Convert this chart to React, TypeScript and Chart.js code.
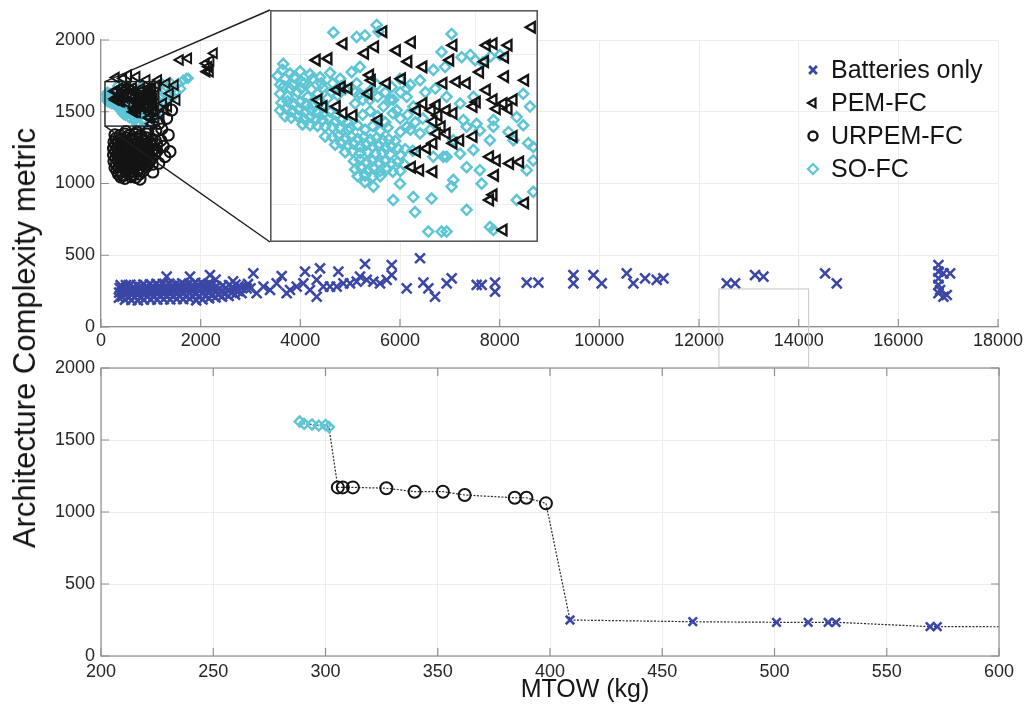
import React, { useEffect, useRef } from 'react';
import { Chart, registerables } from 'chart.js';
import { drawPoint } from 'chart.js/helpers';

Chart.register(...registerables);

type P = [number, number];

// ---------------- labels & ticks ----------------
const SERIES_LABELS = ['Batteries only', 'PEM-FC', 'URPEM-FC', 'SO-FC'];
const Y_TITLE = 'Architecture Complexity metric';
const X_TITLE = 'MTOW (kg)';
const TOP_X_TICKS = [0, 2000, 4000, 6000, 8000, 10000, 12000, 14000, 16000, 18000];
const TOP_Y_TICKS = [0, 500, 1000, 1500, 2000];
const BOT_X_TICKS = [200, 250, 300, 350, 400, 450, 500, 550, 600];
const BOT_Y_TICKS = [0, 500, 1000, 1500, 2000];
const INSET_X_RANGE = [80, 1150];
const INSET_Y_RANGE = [1400, 1710];
const INSET_X_GRID = [200, 550, 900];
const INSET_Y_GRID = [1450, 1550, 1650];
const HILITE_X_RANGE = [12400, 14200];
const HILITE_Y_TOP = 265;

// ---------------- top panel: Batteries only ----------------
const BATT_BAND: P[] = [
  [360, 205], [365, 240], [375, 272], [395, 292],
  [480, 190], [490, 228], [470, 262], [500, 292],
  [610, 188], [620, 226], [600, 260], [590, 294],
  [740, 186], [730, 224], [750, 258], [720, 292],
  [860, 190], [880, 228], [870, 262], [850, 296],
  [1000, 192], [990, 230], [1010, 265], [980, 298],
  [1130, 190], [1120, 232], [1140, 266], [1110, 300],
  [1260, 194], [1250, 234], [1270, 268], [1240, 300],
  [1390, 192], [1380, 232], [1400, 268], [1370, 302],
  [1520, 196], [1510, 236], [1530, 270], [1500, 298],
  [1650, 194], [1640, 234], [1660, 270], [1630, 304],
  [1780, 198], [1770, 238], [1790, 274], [1760, 300],
  [1910, 186], [1900, 230], [1920, 270], [1890, 308],
  [2040, 192], [2030, 236], [2050, 274], [2020, 304],
  [2170, 200], [2160, 240], [2180, 278], [2150, 300],
  [2300, 206], [2290, 246], [2310, 282],
  [2430, 212], [2420, 250], [2440, 288],
  [2560, 216], [2550, 256], [2570, 292],
  [2690, 226], [2680, 262], [2700, 296],
  [2820, 236], [2810, 274],
];
const BATT_BAND_B: P[] = [
  [425, 212], [430, 246], [420, 278], [545, 210], [555, 246], [540, 278],
  [675, 208], [680, 244], [665, 276], [800, 210], [810, 246], [790, 278],
  [930, 212], [940, 248], [920, 280], [1060, 212], [1070, 250], [1050, 282],
  [1190, 214], [1200, 250], [1180, 284], [1320, 214], [1330, 252], [1310, 286],
  [1450, 216], [1460, 252], [1440, 286], [1580, 216], [1590, 254], [1570, 288],
  [1710, 218], [1720, 256], [1700, 288], [1840, 216], [1850, 256], [1830, 290],
  [1970, 214], [1980, 254], [1960, 290], [2100, 220], [2110, 258], [2090, 290],
  [2230, 224], [2240, 262], [2220, 292], [2360, 228], [2370, 266],
  [2490, 234], [2500, 270], [2620, 240], [2630, 276], [2750, 250], [2760, 284],
];
const BATT_SPARSE: P[] = [
  [1318, 351], [1786, 351], [2187, 362], [3057, 374], [3626, 355], [4094, 386], [4395, 409],
  [4763, 386], [5298, 439], [5198, 351], [5834, 432], [5834, 362], [6402, 479], [6134, 269],
  [6469, 309], [6703, 211], [6569, 269], [6937, 304], [7038, 339], [7539, 293], [7640, 293],
  [7907, 309], [7907, 246], [8543, 309], [8777, 309], [9480, 362], [9480, 304],
  [2923, 269], [3258, 281], [3525, 304], [3793, 258], [4061, 304], [4328, 328], [4328, 211],
  [4462, 281], [4596, 281], [4864, 304], [4997, 304], [5131, 316], [5332, 328], [5599, 304],
  [5733, 328], [3392, 258], [3927, 281], [3726, 235], [4194, 258], [4730, 281], [5466, 316],
  [2756, 258], [3124, 235], [2300, 330], [2650, 318], [2950, 300], [3000, 270],
  [9881, 362], [10048, 304], [10550, 374], [10683, 304], [10918, 339], [11152, 328], [11286, 339],
  [12557, 304], [12724, 304], [13125, 362], [13293, 351], [14530, 374], [14764, 304],
  [16805, 432], [16805, 386], [16805, 339], [16805, 293], [16805, 235], [16905, 374], [17039, 374],
  [16905, 211], [16972, 223], [16838, 258],
];

// ---------------- top panel: PEM-FC ----------------
const PEM_INSET: P[] = [
  [266, 1643], [313, 1645], [373, 1665], [459, 1652], [499, 1661], [532, 1681], [586, 1656],
  [646, 1667], [632, 1641], [692, 1634], [606, 1618], [812, 1663], [799, 1643], [945, 1663],
  [972, 1665], [1032, 1663], [938, 1641], [1018, 1647], [918, 1627], [1018, 1621], [1098, 1616],
  [1125, 1687], [479, 1623], [486, 1616], [546, 1612], [366, 1607], [393, 1605], [346, 1603],
  [273, 1590], [293, 1581], [346, 1581], [373, 1572], [413, 1569], [513, 1563], [666, 1576],
  [692, 1585], [725, 1576], [745, 1583], [752, 1569], [785, 1576], [812, 1572], [765, 1554],
  [732, 1561], [745, 1545], [785, 1545], [839, 1536], [892, 1541], [812, 1532], [732, 1532],
  [706, 1525], [666, 1521], [772, 1612], [825, 1614], [865, 1612], [945, 1603], [905, 1587],
  [972, 1590], [1012, 1585], [1052, 1590], [1032, 1578], [985, 1578], [892, 1581], [1052, 1541],
  [1038, 1505], [1078, 1507], [985, 1509], [958, 1514], [978, 1489], [972, 1463], [958, 1456],
  [1098, 1452], [1012, 1416], [646, 1500], [679, 1496], [732, 1494], [473, 1598],
];
const PEM_OUTER: P[] = [
  [1585, 1861], [1752, 1872], [2154, 1814], [2268, 1907], [2121, 1779], [2188, 1779], [2107, 1837],
  [2200, 1855], [1318, 1698], [1485, 1686], [1385, 1628], [1519, 1582], [1251, 1559], [1351, 1535],
  [1284, 1512], [1200, 1480], [448, 1733], [548, 1756], [716, 1744], [917, 1722], [1150, 1721],
  [300, 1738],
];

// ---------------- top panel: URPEM-FC ----------------
const URPEM_CORE: P[] = [
  [280, 1340], [380, 1335], [480, 1345], [580, 1338], [690, 1342], [800, 1335], [920, 1345],
  [260, 1290], [350, 1295], [440, 1288], [530, 1292], [640, 1296], [750, 1290], [860, 1294], [980, 1290], [1090, 1300],
  [250, 1245], [330, 1250], [420, 1242], [520, 1248], [630, 1245], [740, 1250], [850, 1244], [960, 1248], [1070, 1240],
  [250, 1200], [330, 1205], [420, 1198], [530, 1202], [640, 1206], [750, 1200], [860, 1204], [970, 1198], [1080, 1205],
  [260, 1155], [340, 1160], [430, 1152], [540, 1158], [650, 1155], [760, 1160], [870, 1152], [980, 1158],
  [280, 1110], [360, 1115], [460, 1108], [570, 1112], [680, 1116], [790, 1110], [900, 1114],
  [350, 1065], [440, 1060], [550, 1068], [660, 1062], [770, 1066],
];
const URPEM_CORE_B: P[] = [
  [300, 1315], [400, 1312], [500, 1318], [600, 1310], [700, 1316], [805, 1312], [915, 1318], [1025, 1310],
  [290, 1268], [380, 1265], [475, 1270], [575, 1266], [685, 1272], [795, 1266], [905, 1270], [1015, 1264], [1120, 1270],
  [290, 1222], [380, 1226], [475, 1220], [575, 1224], [685, 1220], [795, 1226], [905, 1222], [1015, 1220], [1120, 1226],
  [295, 1178], [385, 1175], [480, 1180], [585, 1176], [695, 1182], [805, 1176], [915, 1180], [1025, 1176],
  [310, 1132], [400, 1135], [490, 1130], [600, 1134], [710, 1130], [820, 1136], [930, 1130], [1030, 1134],
  [320, 1088], [400, 1085], [510, 1090], [620, 1086], [730, 1090], [840, 1086],
  [400, 1045], [600, 1048], [700, 1042],
];
const URPEM_SPARSE: P[] = [
  [1160, 1141], [783, 1030], [1284, 1187], [1385, 1222], [1351, 1338], [1218, 1380], [1165, 1419],
  [1318, 1454], [1418, 1512], [1200, 1300], [1250, 1260], [480, 1035], [1040, 1080], [1100, 1370],
  [500, 1362], [720, 1358], [940, 1362],
];

// ---------------- top panel: SO-FC ----------------
const SOFC_SPARSE: P[] = [
  [333, 1680], [133, 1638], [426, 1674], [459, 1676], [506, 1690], [513, 1681], [805, 1678],
  [765, 1654], [845, 1647], [899, 1643], [998, 1650], [439, 1634], [206, 1614], [120, 1610],
  [160, 1605], [406, 1627], [599, 1618], [626, 1605], [679, 1616], [566, 1607], [652, 1581],
  [732, 1630], [779, 1634], [300, 1541], [459, 1480], [493, 1474], [599, 1478], [652, 1460],
  [725, 1458], [659, 1440], [865, 1443], [805, 1474], [925, 1478], [712, 1414], [765, 1414],
  [785, 1414], [958, 1420], [972, 1416], [1065, 1456], [1131, 1467], [1105, 1496], [1131, 1509],
  [1111, 1532], [1131, 1527], [1091, 1556], [1052, 1536], [1032, 1547], [972, 1554], [918, 1549],
  [865, 1554], [812, 1536], [785, 1514], [865, 1500], [918, 1496], [812, 1483], [572, 1456],
  [880, 1650], [930, 1640], [960, 1648], [785, 1594], [839, 1585], [626, 1594], [572, 1590],
  [533, 1581], [586, 1576], [479, 1590], [439, 1598], [426, 1612], [506, 1610], [892, 1594],
  [1091, 1598], [1118, 1581], [1065, 1567], [972, 1563], [905, 1558], [852, 1563], [958, 1536],
  [892, 1523], [839, 1518], [772, 1514], [732, 1514], [679, 1545], [626, 1554],
];
const SOFC_CLUSTER: P[] = [
  [110, 1622], [140, 1618], [175, 1620], [215, 1612], [250, 1618], [290, 1606], [330, 1612],
  [130, 1630], [160, 1625], [200, 1628], [240, 1624], [280, 1620], [320, 1626], [360, 1618],
  [135, 1608], [170, 1610], [205, 1605], [245, 1604], [285, 1612], [325, 1600], [365, 1608],
  [120, 1598], [150, 1595], [190, 1600], [230, 1594], [270, 1598], [310, 1592], [350, 1596], [380, 1604],
  [125, 1586], [150, 1588], [175, 1585], [200, 1587], [225, 1584], [250, 1583], [275, 1586], [300, 1580],
  [120, 1576], [145, 1578], [170, 1575], [195, 1577], [220, 1574], [245, 1576], [270, 1573], [295, 1572],
  [320, 1574], [345, 1570],
  [140, 1568], [165, 1566], [190, 1568], [215, 1565], [240, 1567], [265, 1564], [290, 1563], [315, 1565],
  [340, 1561], [365, 1563], [390, 1560],
  [210, 1557], [240, 1556], [270, 1555], [300, 1554], [330, 1553], [360, 1552], [390, 1550],
  [400, 1552], [430, 1556], [460, 1550], [490, 1555], [520, 1548], [550, 1553], [600, 1547], [640, 1550],
  [420, 1600], [450, 1590], [480, 1602], [510, 1594], [540, 1600], [570, 1572], [600, 1565], [630, 1570],
  [660, 1560], [690, 1565], [720, 1550], [450, 1570], [480, 1575], [510, 1568], [540, 1560], [420, 1585],
  [560, 1590], [600, 1600], [640, 1610], [700, 1600], [740, 1605],
  [330, 1540], [355, 1542], [380, 1539], [405, 1541], [430, 1538], [455, 1540], [480, 1537], [505, 1539],
  [530, 1536], [555, 1537], [580, 1535],
  [340, 1530], [365, 1532], [390, 1529], [415, 1531], [440, 1528], [465, 1530], [490, 1527], [515, 1529],
  [540, 1526], [565, 1528], [590, 1525], [620, 1524], [650, 1522],
  [380, 1520], [410, 1521], [440, 1519], [470, 1520], [500, 1518], [530, 1519], [560, 1517], [600, 1516],
  [415, 1508], [440, 1510], [465, 1507], [490, 1509], [515, 1506], [540, 1508], [565, 1505], [590, 1507], [615, 1504],
  [420, 1497], [445, 1499], [470, 1496], [495, 1498], [520, 1495], [545, 1497], [570, 1494], [600, 1495],
  [430, 1488], [460, 1489], [490, 1487], [520, 1488],
];
const SOFC_OUTER: P[] = [
  [1720, 1733], [1753, 1733], [1652, 1721], [1552, 1698], [1218, 1698], [1284, 1651], [1419, 1651],
  [1184, 1605], [1318, 1582], [1451, 1605], [1350, 1620], [1250, 1560], [1500, 1640], [1600, 1660],
  [1180, 1540], [1230, 1640], [1400, 1700],
];

// ---------------- bottom panel: Pareto front ----------------
const SOFC_FRONT: P[] = [[288.5, 1628], [290.5, 1612], [294, 1608], [297, 1600], [300, 1604], [301.5, 1590]];
const URPEM_FRONT: P[] = [
  [305.5, 1171], [307.7, 1171], [312.2, 1171], [327.1, 1165], [339.7, 1141], [352.3, 1141],
  [362, 1118], [384.3, 1099], [389.5, 1099], [398.2, 1060],
];
const BATT_FRONT: P[] = [
  [408.9, 250], [463.6, 238], [500.9, 234], [515, 234], [523.9, 234], [527.4, 234], [569.3, 204], [572.5, 204],
];
const FRONT_TAIL: P[] = [[605, 203]];

// ---------------- styling / layout ----------------
const FONT = "'Liberation Sans', Arial, Helvetica, sans-serif";
const BLUE = '#3b47a6';
const CYAN = '#5ec5d5';
const BLACK = '#141414';
const GRID = '#ececec';
const AXIS = '#8f8f8f';
const TEXT = '#262626';
const TICK = 8;
const W = 1028;
const H = 711;
const TOP_H = 370;
const BOT_TOP = 350;
const BOT_H = 361;
const INSET_BOX = { left: 270, top: 10, width: 268, height: 232 };
const LEGEND = { markX: 813, textX: 831, y0: 70, dy: 33 };
const LEGEND_R = [5.5, 5, 4.5, 5];
const LEGEND_LW = [2.8, 2.2, 2.4, 2.2];

const xy = (a: P[]) => a.map(([x, y]) => ({ x, y }));

const tickFont = { family: FONT, size: 18 };

function axis(ticks: number[], size: number, isX: boolean, padding: number, border: boolean) {
  return {
    type: 'linear',
    min: ticks[0],
    max: ticks[ticks.length - 1],
    afterBuildTicks: (s: any) => {
      s.ticks = ticks.map((value) => ({ value }));
    },
    afterFit: (s: any) => {
      if (isX) s.height = size;
      else s.width = size;
    },
    grid: { color: GRID, drawTicks: false, lineWidth: 1 },
    border: { display: border, color: AXIS, width: 1.2 },
    ticks: {
      font: tickFont,
      color: TEXT,
      padding,
      maxRotation: 0,
      autoSkip: false,
      callback: (v: any) => String(v),
    },
  };
}

function inwardTicks(chart: any, sides: string[]) {
  const { ctx, chartArea: a, scales } = chart;
  const x = scales.x;
  const y = scales.y;
  ctx.save();
  ctx.strokeStyle = AXIS;
  ctx.lineWidth = 1.2;
  ctx.beginPath();
  x.ticks.forEach((t: any) => {
    const px = x.getPixelForValue(t.value);
    if (sides.includes('bottom')) { ctx.moveTo(px, a.bottom); ctx.lineTo(px, a.bottom - TICK); }
    if (sides.includes('top')) { ctx.moveTo(px, a.top); ctx.lineTo(px, a.top + TICK); }
  });
  y.ticks.forEach((t: any) => {
    const py = y.getPixelForValue(t.value);
    if (sides.includes('left')) { ctx.moveTo(a.left, py); ctx.lineTo(a.left + TICK, py); }
    if (sides.includes('right')) { ctx.moveTo(a.right, py); ctx.lineTo(a.right - TICK, py); }
  });
  ctx.stroke();
  ctx.restore();
}

const topDecor = {
  id: 'topDecor',
  afterDatasetsDraw(chart: any) {
    const { ctx, chartArea: a, scales } = chart;
    const x = scales.x;
    const y = scales.y;
    inwardTicks(chart, ['bottom', 'left']);
    ctx.save();
    const hx0 = x.getPixelForValue(HILITE_X_RANGE[0]);
    const hx1 = x.getPixelForValue(HILITE_X_RANGE[1]);
    const hy = y.getPixelForValue(HILITE_Y_TOP);
    ctx.strokeStyle = '#c6c6c6';
    ctx.lineWidth = 1;
    ctx.strokeRect(hx0, hy, hx1 - hx0, a.bottom + 40 - hy);
    const bx0 = x.getPixelForValue(INSET_X_RANGE[0]);
    const bx1 = x.getPixelForValue(INSET_X_RANGE[1]);
    const by0 = y.getPixelForValue(INSET_Y_RANGE[1]);
    const by1 = y.getPixelForValue(INSET_Y_RANGE[0]);
    ctx.strokeStyle = '#1e1e1e';
    ctx.lineWidth = 1.4;
    ctx.strokeRect(bx0, by0, bx1 - bx0, by1 - by0);
    ctx.beginPath();
    ctx.moveTo(bx0, by0);
    ctx.lineTo(INSET_BOX.left, INSET_BOX.top);
    ctx.moveTo(bx0, by1);
    ctx.lineTo(INSET_BOX.left, INSET_BOX.top + INSET_BOX.height);
    ctx.stroke();
    chart.data.datasets.forEach((ds: any, i: number) => {
      const cy = LEGEND.y0 + i * LEGEND.dy;
      ctx.strokeStyle = ds.pointBorderColor;
      ctx.fillStyle = 'rgba(0,0,0,0)';
      ctx.lineWidth = LEGEND_LW[i];
      drawPoint(ctx, { pointStyle: ds.pointStyle, rotation: ds.pointRotation || 0, radius: LEGEND_R[i], borderWidth: LEGEND_LW[i] } as any, LEGEND.markX, cy);
      ctx.fillStyle = '#141414';
      ctx.font = `25px ${FONT}`;
      ctx.textAlign = 'left';
      ctx.textBaseline = 'middle';
      ctx.fillText(ds.label, LEGEND.textX, cy + 1);
    });
    ctx.restore();
  },
};

const botDecor = {
  id: 'botDecor',
  afterDatasetsDraw(chart: any) {
    const { ctx, chartArea: a } = chart;
    inwardTicks(chart, ['bottom', 'left', 'top', 'right']);
    ctx.save();
    ctx.strokeStyle = AXIS;
    ctx.lineWidth = 1.2;
    ctx.strokeRect(a.left, a.top, a.right - a.left, a.bottom - a.top);
    ctx.restore();
  },
};

const insetDecor = {
  id: 'insetDecor',
  afterDatasetsDraw(chart: any) {
    const { ctx, chartArea: a } = chart;
    ctx.save();
    ctx.strokeStyle = '#5a5a5a';
    ctx.lineWidth = 1.6;
    ctx.strokeRect(a.left + 0.8, a.top + 0.8, a.right - a.left - 1.6, a.bottom - a.top - 1.6);
    ctx.restore();
  },
};

function markerSet(label: string, data: P[], style: string, color: string, r: number, lw: number, rot = 0) {
  return {
    label,
    data: xy(data),
    pointStyle: style,
    pointRotation: rot,
    pointRadius: r,
    pointBorderWidth: lw,
    pointBorderColor: color,
    pointBackgroundColor: 'rgba(0,0,0,0)',
    borderColor: color,
    backgroundColor: 'rgba(0,0,0,0)',
    showLine: false,
  };
}

const BATT_ALL = [...BATT_BAND, ...BATT_BAND_B, ...BATT_SPARSE];
const PEM_ALL = [...PEM_INSET, ...PEM_OUTER];
const URPEM_ALL = [...URPEM_CORE, ...URPEM_CORE_B, ...URPEM_SPARSE];
const SOFC_ALL = [...SOFC_CLUSTER, ...SOFC_SPARSE, ...SOFC_OUTER];

export default function App() {
  const topRef = useRef<HTMLCanvasElement>(null);
  const botRef = useRef<HTMLCanvasElement>(null);
  const insRef = useRef<HTMLCanvasElement>(null);

  useEffect(() => {
    const charts: Chart[] = [];

    charts.push(
      new Chart(topRef.current as HTMLCanvasElement, {
        type: 'scatter',
        data: {
          datasets: [
            markerSet(SERIES_LABELS[0], BATT_ALL, 'crossRot', BLUE, 7, 2.5),
            markerSet(SERIES_LABELS[1], PEM_ALL, 'triangle', BLACK, 5.5, 2, -90),
            markerSet(SERIES_LABELS[2], URPEM_ALL, 'circle', BLACK, 5.5, 2.1),
            markerSet(SERIES_LABELS[3], SOFC_ALL, 'rectRot', CYAN, 4.5, 2.2),
          ] as any,
        },
        options: {
          responsive: false,
          animation: false,
          events: [],
          layout: { padding: { top: 40, right: 30, left: 0, bottom: 0 }, autoPadding: false },
          plugins: { legend: { display: false }, tooltip: { enabled: false } },
          scales: {
            x: axis(TOP_X_TICKS, TOP_H - 327, true, 3, true),
            y: axis(TOP_Y_TICKS, 101, false, 6, true),
          } as any,
        },
        plugins: [topDecor],
      } as any)
    );

    const front = [...SOFC_FRONT, ...URPEM_FRONT, ...BATT_FRONT, ...FRONT_TAIL].sort((p, q) => p[0] - q[0]);

    charts.push(
      new Chart(botRef.current as HTMLCanvasElement, {
        type: 'scatter',
        data: {
          datasets: [
            markerSet(SERIES_LABELS[0], BATT_FRONT, 'crossRot', BLUE, 6, 2.5),
            markerSet(SERIES_LABELS[2], URPEM_FRONT, 'circle', BLACK, 6, 2),
            markerSet(SERIES_LABELS[3], SOFC_FRONT, 'rectRot', CYAN, 5, 2.4),
            {
              type: 'line',
              label: 'front',
              data: xy(front),
              borderColor: '#2a2a2a',
              borderWidth: 1.2,
              borderDash: [2, 1.5],
              pointRadius: 0,
              fill: false,
              tension: 0,
              showLine: true,
            },
          ] as any,
        },
        options: {
          responsive: false,
          animation: false,
          events: [],
          layout: { padding: { top: 18, right: 29, left: 0, bottom: 0 }, autoPadding: false },
          plugins: { legend: { display: false }, tooltip: { enabled: false } },
          scales: {
            x: axis(BOT_X_TICKS, BOT_H - 306, true, 5, false),
            y: axis(BOT_Y_TICKS, 101, false, 6, false),
          } as any,
        },
        plugins: [botDecor],
      } as any)
    );

    const insetAxis = (range: number[], grid: number[], isX: boolean) => ({
      type: 'linear',
      min: range[0],
      max: range[1],
      afterBuildTicks: (s: any) => {
        s.ticks = grid.map((value) => ({ value }));
      },
      afterFit: (s: any) => {
        if (isX) s.height = 0;
        else s.width = 0;
      },
      grid: { color: '#efefef', drawTicks: false },
      border: { display: false },
      ticks: { display: false },
    });

    charts.push(
      new Chart(insRef.current as HTMLCanvasElement, {
        type: 'scatter',
        data: {
          datasets: [
            markerSet(SERIES_LABELS[1], PEM_ALL, 'triangle', BLACK, 6, 2.4, -90),
            markerSet(SERIES_LABELS[3], SOFC_ALL, 'rectRot', CYAN, 5, 2.5),
          ] as any,
        },
        options: {
          responsive: false,
          animation: false,
          events: [],
          layout: { padding: 0, autoPadding: false },
          plugins: { legend: { display: false }, tooltip: { enabled: false } },
          scales: {
            x: insetAxis(INSET_X_RANGE, INSET_X_GRID, true),
            y: insetAxis(INSET_Y_RANGE, INSET_Y_GRID, false),
          } as any,
        },
        plugins: [insetDecor],
      } as any)
    );

    return () => charts.forEach((c) => c.destroy());
  }, []);

  return (
    <div style={{ position: 'absolute', left: 0, top: 0, width: W, height: H, background: '#fff', overflow: 'hidden' }}>
      <canvas ref={topRef} width={W} height={TOP_H} style={{ position: 'absolute', left: 0, top: 0 }} />
      <canvas ref={botRef} width={W} height={BOT_H} style={{ position: 'absolute', left: 0, top: BOT_TOP }} />
      <canvas
        ref={insRef}
        width={INSET_BOX.width}
        height={INSET_BOX.height}
        style={{ position: 'absolute', left: INSET_BOX.left, top: INSET_BOX.top, background: '#fff' }}
      />
      <div
        style={{
          position: 'absolute',
          left: 25,
          top: 338,
          transform: 'translate(-50%, -50%) rotate(-90deg)',
          whiteSpace: 'nowrap',
          fontFamily: FONT,
          fontSize: 31,
          color: '#141414',
        }}
      >
        {Y_TITLE}
      </div>
      <div
        style={{
          position: 'absolute',
          left: 585,
          top: 688,
          transform: 'translate(-50%, -50%)',
          whiteSpace: 'nowrap',
          fontFamily: FONT,
          fontSize: 25,
          color: '#141414',
        }}
      >
        {X_TITLE}
      </div>
    </div>
  );
}
